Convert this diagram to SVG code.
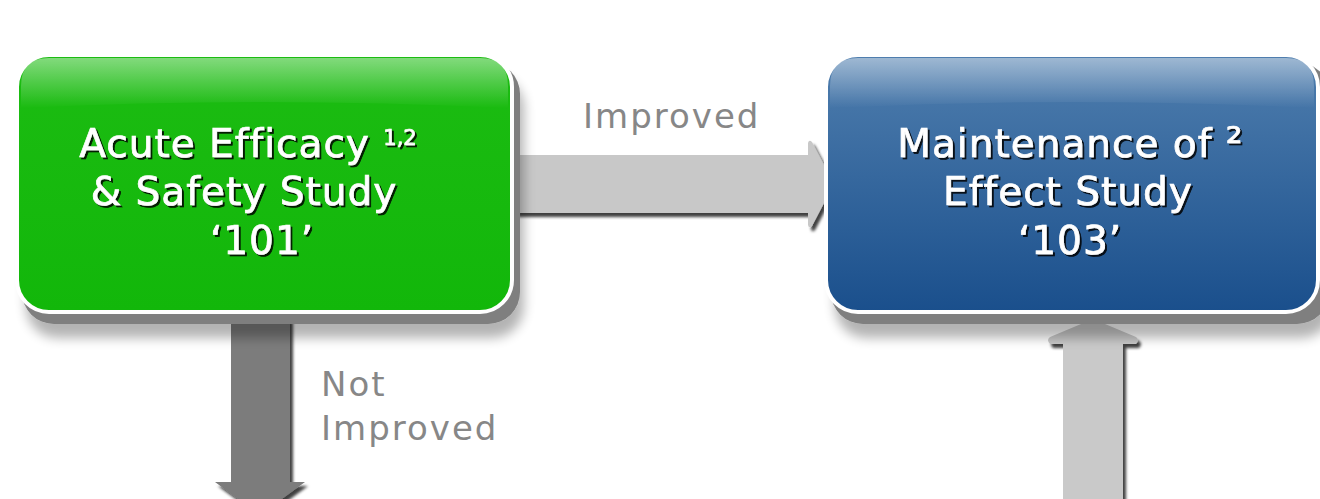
<svg xmlns="http://www.w3.org/2000/svg" width="1320" height="499" viewBox="0 0 1320 499">
<defs>
<linearGradient id="gGreen" x1="0" y1="0" x2="0" y2="1">
<stop offset="0" stop-color="#1cbc12"/>
<stop offset="1" stop-color="#12b70a"/>
</linearGradient>
<linearGradient id="gBlue" x1="0" y1="0" x2="0" y2="1">
<stop offset="0" stop-color="#4f7eae"/>
<stop offset="1" stop-color="#1a4f8c"/>
</linearGradient>
<linearGradient id="gGloss" x1="0" y1="0" x2="0" y2="1">
<stop offset="0" stop-color="#ffffff" stop-opacity="0.45"/>
<stop offset="1" stop-color="#ffffff" stop-opacity="0"/>
</linearGradient>
<filter id="boxShadow" x="-10%" y="-10%" width="125%" height="135%">
<feGaussianBlur in="SourceAlpha" stdDeviation="6" result="b"/>
<feOffset in="b" dx="4" dy="14" result="o"/>
<feComponentTransfer in="o" result="s"><feFuncA type="linear" slope="0.3"/></feComponentTransfer>
<feMerge><feMergeNode in="s"/><feMergeNode in="SourceGraphic"/></feMerge>
</filter>
<filter id="arrowShadow" x="-20%" y="-20%" width="140%" height="140%">
<feDropShadow dx="3" dy="4" stdDeviation="1.5" flood-color="#000" flood-opacity="0.75"/>
</filter>
<filter id="txtShadow" x="-5%" y="-20%" width="110%" height="140%">
<feDropShadow dx="2" dy="2" stdDeviation="0.6" flood-color="#000" flood-opacity="0.85"/>
</filter>
<style>
.node{font-family:"DejaVu Sans",Verdana,sans-serif;font-size:39px;fill:#ffffff;stroke:#ffffff;stroke-width:0.7;text-anchor:middle;letter-spacing:1px}
.sup{font-size:21px;letter-spacing:0}
.sup2{font-size:42px;letter-spacing:0}
.lbl{font-family:"DejaVu Sans",Verdana,sans-serif;font-size:34px;fill:#878787;letter-spacing:2px}
.shadowRect{fill:#7f7f7f}
.border{stroke:#ffffff;stroke-width:4}
</style>
</defs>
<rect width="1320" height="499" fill="#ffffff"/>

<g id="connectors">
<g id="arrow-improved" filter="url(#arrowShadow)">
<path d="M515,155 L808,155 L808,143 Q809,139 812,142 L833,182 Q834,184 833,186 L812,226 Q809,229 808,225 L808,213 L515,213 Z" fill="#c8c8c8"/>
</g>
<g id="arrow-not-improved" filter="url(#arrowShadow)">
<path d="M231,318 L290,318 L290,482 L305,482 L260,515 L215,482 L231,482 Z" fill="#7b7b7b"/>
</g>
<g id="arrow-up" filter="url(#arrowShadow)">
<path d="M1093,319 L1136,337 Q1140,340 1136,344 L1123,344 L1123,510 L1063,510 L1063,344 L1050,344 Q1046,340 1050,337 Z" fill="#c9c9c9"/>
</g>
</g>

<g id="node-101">
<rect x="22" y="62" width="498" height="262" rx="32" class="shadowRect" filter="url(#boxShadow)"/>
<rect x="17" y="55" width="495" height="257" rx="32" fill="url(#gGreen)" class="border"/>
<path d="M49,58 L480,58 Q508,58 508,86 L508,108 Q264,96 21,108 L21,86 Q21,58 49,58 Z" fill="url(#gGloss)"/>
<g filter="url(#txtShadow)">
<text class="node" x="248" y="157">Acute Efficacy <tspan class="sup" dy="-12">1,2</tspan></text>
<text class="node" x="244" y="205">&amp; Safety Study</text>
<text class="node" x="262" y="254">‘101’</text>
</g>
</g>

<g id="node-103">
<rect x="831" y="62" width="498" height="262" rx="32" class="shadowRect" filter="url(#boxShadow)"/>
<rect x="826" y="55" width="492" height="257" rx="32" fill="url(#gBlue)" class="border"/>
<path d="M858,58 L1286,58 Q1314,58 1314,86 L1314,108 Q1072,96 830,108 L830,86 Q830,58 858,58 Z" fill="url(#gGloss)"/>
<g filter="url(#txtShadow)">
<text class="node" x="1070" y="157">Maintenance of <tspan class="sup2">²</tspan></text>
<text class="node" x="1068" y="205">Effect Study</text>
<text class="node" x="1070" y="254">‘103’</text>
</g>
</g>

<g id="labels">
<text class="lbl" x="583" y="128">Improved</text>
<text class="lbl" x="321" y="396">Not</text>
<text class="lbl" x="321" y="440">Improved</text>
</g>
</svg>
